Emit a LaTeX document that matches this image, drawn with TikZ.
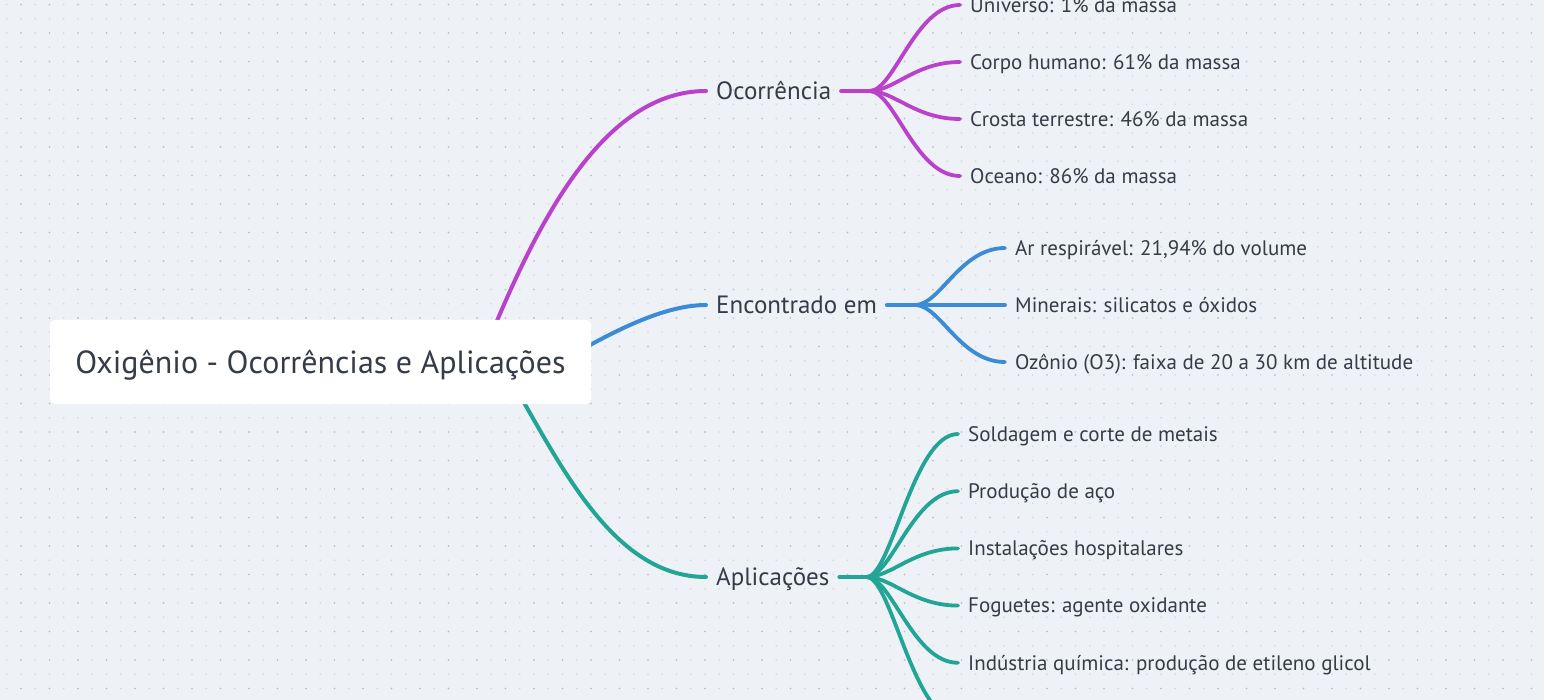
\documentclass[tikz,border=0pt]{standalone}
\usepackage{fontspec}
\setmainfont{PT Sans}
\usetikzlibrary{positioning,calc}
\definecolor{bgpaper}{HTML}{EEF2F6}
\definecolor{dotlight}{HTML}{D3D8DF}
\definecolor{dotdark}{HTML}{BAC1C9}
\definecolor{inkgray}{HTML}{353C48}
\definecolor{occpurple}{HTML}{B941CB}
\definecolor{encblue}{HTML}{3B8BD6}
\definecolor{aplteal}{HTML}{23A596}

\begin{document}
\begin{tikzpicture}[x=1pt,y=-1pt]
\tikzstyle{root}=[rectangle, rounded corners=5pt, fill=white, text=inkgray, minimum width=541pt, minimum height=84pt, font=\fontsize{32}{37}\selectfont, text height=26.5pt, text depth=4pt]
\tikzstyle{branch}=[inner xsep=10pt, inner ysep=0pt, text=inkgray, font=\fontsize{25}{30}\selectfont, text height=22.5pt, text depth=5pt]
\tikzstyle{leaf}=[inner xsep=10pt, inner ysep=0pt, text=inkgray, font=\fontsize{21}{25}\selectfont, text height=19.7pt, text depth=5pt, anchor=west]
\tikzstyle{mainline}=[line width=4pt, line cap=round]
\tikzstyle{stem}=[line width=4.5pt, line cap=round]
\tikzstyle{twig}=[line width=3.8pt, line cap=round, out=0, in=180, out distance=25pt, in distance=45pt]

  \useasboundingbox (0,0) rectangle (1544,700);
  \clip (0,0) rectangle (1544,700);
  \fill[bgpaper] (0,0) rectangle (1544,700);

  % dotted paper
  \foreach \r in {0,...,49}
    \draw[dotlight, line width=1.6pt, line cap=round, dash pattern=on 0pt off 14.25pt]
      (6.75,4.5+14.25*\r) -- (1544,4.5+14.25*\r);
  \foreach \r in {0,...,24}
    \draw[dotdark, line width=1.8pt, line cap=round, dash pattern=on 0pt off 28.5pt]
      (21,4.5+28.5*\r) -- (1544,4.5+28.5*\r);

  % nodes
  \coordinate (occout) at (480,362);
  \coordinate (encout) at (560,362);
  \coordinate (aplout) at (500,362);
  \node[branch, anchor=west] (occ) at (706,91)  {Ocorrência};
  \node[branch, anchor=west] (enc) at (706,305) {Encontrado em};
  \node[branch, anchor=west] (apl) at (706,577) {Aplicações};

  \node[leaf] (o1) at (960,5) {Universo: 1\% da massa};
  \node[leaf] (o2) [below=57pt of o1.west, anchor=west] {Corpo humano: 61\% da massa};
  \node[leaf] (o3) [below=57pt of o2.west, anchor=west] {Crosta terrestre: 46\% da massa};
  \node[leaf] (o4) [below=57pt of o3.west, anchor=west] {Oceano: 86\% da massa};

  \node[leaf] (e1) at (1005,248) {Ar respirável: 21,94\% do volume};
  \node[leaf] (e2) [below=57pt of e1.west, anchor=west] {Minerais: silicatos e óxidos};
  \node[leaf] (e3) [below=57pt of e2.west, anchor=west] {Ozônio (O3): faixa de 20 a 30 km de altitude};

  \node[leaf] (a1) at (958,434) {Soldagem e corte de metais};
  \node[leaf] (a2) [below=57.2pt of a1.west, anchor=west] {Produção de aço};
  \node[leaf] (a3) [below=57.2pt of a2.west, anchor=west] {Instalações hospitalares};
  \node[leaf] (a4) [below=57.2pt of a3.west, anchor=west] {Foguetes: agente oxidante};
  \node[leaf] (a5) [below=57.2pt of a4.west, anchor=west] {Indústria química: produção de etileno glicol};
  \coordinate[below=57.2pt of a5.west] (a6);

  \coordinate (occhub) at ([xshift=28pt]occ.east);
  \coordinate (enchub) at ([xshift=28pt]enc.east);
  \coordinate (aplhub) at ([xshift=27pt]apl.east);

  % main branches
  \path (occout) edge [mainline, occpurple, out=68, in=180, out distance=130pt, in distance=110pt] (occ.west)
        (encout) edge [mainline, encblue, out=30, in=180, out distance=50pt, in distance=46pt] (enc.west)
        (aplout) edge [mainline, aplteal, out=-58, in=180, out distance=100pt, in distance=100pt] (apl.west);

  % twigs
  \path[occpurple] (occ.east) edge [stem] (occhub)
        (occhub) edge [twig] (o1.west)
        (occhub) edge [twig] (o2.west)
        (occhub) edge [twig] (o3.west)
        (occhub) edge [twig] (o4.west);

  \path[encblue] (enc.east) edge [stem] (enchub)
        (enchub) edge [twig] (e1.west)
        (enchub) edge [twig] (e2.west)
        (enchub) edge [twig] (e3.west);

  \path[aplteal] (apl.east) edge [stem] (aplhub)
        (aplhub) edge [twig] (a1.west)
        (aplhub) edge [twig] (a2.west)
        (aplhub) edge [twig] (a3.west)
        (aplhub) edge [twig] (a4.west)
        (aplhub) edge [twig] (a5.west)
        (aplhub) edge [twig] (a6);

  \node[root] (oxi) at (320.5,362) {Oxigênio - Ocorrências e Aplicações};

\end{tikzpicture}
\end{document}
